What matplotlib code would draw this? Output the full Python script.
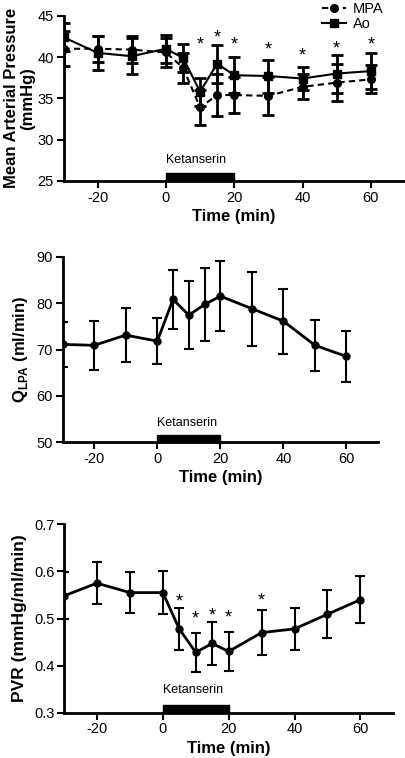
import matplotlib
matplotlib.use("Agg")
import matplotlib.pyplot as plt
from matplotlib.patches import Rectangle
from matplotlib.lines import Line2D

plt.rcParams['font.family'] = ['Liberation Sans', 'DejaVu Sans']
plt.rcParams['mathtext.fontset'] = 'custom'
plt.rcParams['mathtext.rm'] = 'Liberation Sans'
plt.rcParams['mathtext.bf'] = 'Liberation Sans:bold'
plt.rcParams['axes.unicode_minus'] = False

# ---------------- data ----------------
time = [-30, -20, -10, 0, 5, 10, 15, 20, 30, 40, 50, 60]

mpa_mean = [41.0, 41.0, 40.9, 40.55, 38.7, 33.9, 35.4, 35.4, 35.3, 36.4, 36.9, 37.3]
mpa_err = [2.1, 1.6, 1.6, 1.7, 1.8, 2.1, 2.5, 2.2, 2.3, 1.5, 2.2, 1.7]
ao_mean = [42.4, 40.5, 40.1, 41.0, 39.9, 35.8, 39.2, 37.8, 37.7, 37.4, 38.0, 38.3]
ao_err = [1.7, 2.1, 2.2, 1.7, 1.7, 1.7, 2.3, 2.2, 2.0, 1.4, 2.3, 2.2]
map_star_times = [10, 15, 20, 30, 40, 50, 60]
map_star_y = [41.4, 42.3, 41.4, 40.8, 40.1, 41.0, 41.4]

qlpa_mean = [71.1, 70.9, 73.1, 71.8, 80.8, 77.4, 79.7, 81.5, 78.8, 76.1, 70.9, 68.5]
qlpa_err = [4.9, 5.3, 5.8, 5.0, 6.3, 7.3, 7.9, 7.55, 8.0, 7.0, 5.5, 5.5]

pvr_mean = [0.548, 0.575, 0.555, 0.555, 0.478, 0.428, 0.447, 0.430, 0.470, 0.478, 0.509, 0.540]
pvr_err = [0.05, 0.045, 0.044, 0.046, 0.044, 0.042, 0.045, 0.041, 0.048, 0.045, 0.051, 0.050]
pvr_star_times = [5, 10, 15, 20, 30]
pvr_star_y = [0.536, 0.500, 0.506, 0.502, 0.537]

xticks = [-20, 0, 20, 40, 60]
drug_start, drug_end = 0, 20
drug_label = "Ketanserin"

# ---------------- figure ----------------
W, H = 405, 758
fig = plt.figure(figsize=(W / 100, H / 100), dpi=100)


def ax_rect(left, right, top, bottom):
    return [left / W, 1 - bottom / H, (right - left) / W, (bottom - top) / H]


ax1 = fig.add_axes(ax_rect(63.5, 405, 15.7, 181))
ax2 = fig.add_axes(ax_rect(62.7, 378, 256.7, 442.3))
ax3 = fig.add_axes(ax_rect(64, 393.3, 524.3, 712.7))


def style(ax, ylim, yticks, bar_h, txt_y):
    ax.set_xlim(-30, 70)
    ax.set_ylim(*ylim)
    ax.set_yticks(yticks)
    ax.set_xticks(xticks)
    for s in ['top', 'right']:
        ax.spines[s].set_visible(False)
    for s in ['left', 'bottom']:
        ax.spines[s].set_linewidth(2)
    ax.tick_params(axis='both', direction='out', length=5, width=1.5,
                   labelsize=10.5, pad=2)
    ax.set_xlabel("Time (min)", fontsize=12, fontweight='bold', labelpad=3)
    tr = ax.get_xaxis_transform()
    ax.add_patch(Rectangle((drug_start, 0), drug_end - drug_start, bar_h,
                           transform=tr, color='black', clip_on=False, zorder=5))
    ax.text(drug_start, txt_y, drug_label, transform=tr, fontsize=9,
            ha='left', va='center')


# Panel 1
style(ax1, (25, 45), [25, 30, 35, 40, 45], 0.048, 0.127)
ax1.errorbar(time, mpa_mean, yerr=mpa_err, fmt='o--', color='black', ms=5.5,
             lw=1.5, elinewidth=2, capsize=4, capthick=2, dashes=(3, 2))
ax1.errorbar(time, ao_mean, yerr=ao_err, fmt='s-', color='black', ms=5.5,
             lw=1.5, elinewidth=2, capsize=4, capthick=2)
for t, y in zip(map_star_times, map_star_y):
    ax1.text(t, y, "*", ha='center', va='center', fontsize=13)
ax1.set_ylabel("Mean Arterial Pressure\n(mmHg)", fontsize=12,
               fontweight='bold', linespacing=1.05, labelpad=2)
handles = [Line2D([], [], color='black', ls='--', dashes=(3, 2), marker='o',
                  ms=5.5, lw=1.5),
           Line2D([], [], color='black', ls='-', marker='s', ms=5.5, lw=1.5)]
fig.legend(handles, ['MPA', 'Ao'], loc='upper right',
           bbox_to_anchor=(0.965, 1.007), frameon=False, fontsize=10.5,
           handlelength=1.6, handletextpad=0.5, labelspacing=0.1,
           borderaxespad=0.1)

# Panel 2
style(ax2, (50, 90), [50, 60, 70, 80, 90], 0.038, 0.106)
ax2.errorbar(time, qlpa_mean, yerr=qlpa_err, fmt='o-', color='black', ms=5,
             lw=2, elinewidth=1.5, capsize=3.5, capthick=1.5)
ax2.set_ylabel(r"Q$_{\mathregular{LPA}}$ (ml/min)", fontsize=12,
               fontweight='bold', labelpad=5)

# Panel 3
style(ax3, (0.3, 0.7), [0.3, 0.4, 0.5, 0.6, 0.7], 0.039, 0.12)
ax3.errorbar(time, pvr_mean, yerr=pvr_err, fmt='o-', color='black', ms=5,
             lw=2, elinewidth=1.5, capsize=3.5, capthick=1.5)
for t, y in zip(pvr_star_times, pvr_star_y):
    ax3.text(t, y, "*", ha='center', va='center', fontsize=13)
ax3.set_ylabel("PVR (mmHg/ml/min)", fontsize=12.5, fontweight='bold',
               labelpad=5)

fig.savefig("out.png", dpi=100)
